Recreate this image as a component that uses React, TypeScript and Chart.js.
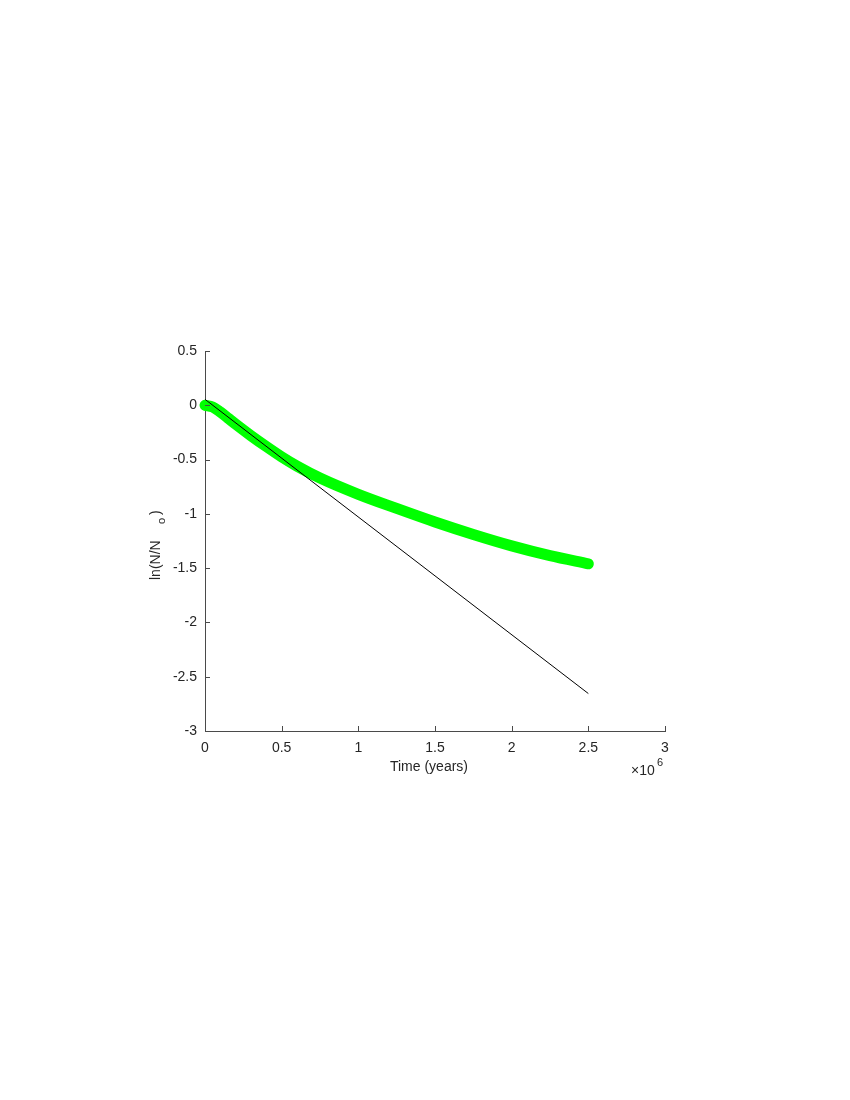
import React, { useEffect, useRef } from "react";
import { Chart, registerables } from "chart.js";

Chart.register(...registerables);

// Data (time in millions of years)
const timeMyr = [0, 0.05, 0.1, 0.15, 0.2, 0.3, 0.4, 0.5, 0.6, 0.75, 1.0, 1.25, 1.5, 1.75, 2.0, 2.25, 2.5];
const lnRatio = [0, -0.015, -0.062, -0.118, -0.174, -0.28, -0.38, -0.475, -0.56, -0.67, -0.82, -0.95, -1.075, -1.19, -1.295, -1.385, -1.46];
const fitTimeMyr = [0, 2.5];
const fitLnRatio = [0.055, -2.655];
const xTickValues = [0, 0.5, 1, 1.5, 2, 2.5, 3];
const yTickValues = [-3, -2.5, -2, -1.5, -1, -0.5, 0, 0.5];
const xTitle = "Time (years)";

const FONT = '"Liberation Sans", Arial, Helvetica, sans-serif';
const TEXT = "#262626";
const AXIS = "#4a4a4a";

export default function App() {
  const ref = useRef<HTMLCanvasElement | null>(null);

  useEffect(() => {
    if (!ref.current) return;
    const decor = {
      id: "decor",
      afterDraw(chart: any) {
        const ctx = chart.ctx;
        const xs = chart.scales.x;
        const ys = chart.scales.y;
        const { left, bottom } = chart.chartArea;
        ctx.save();
        ctx.strokeStyle = AXIS;
        ctx.lineWidth = 1;
        ctx.beginPath();
        xTickValues.forEach((v) => {
          const px = Math.round(xs.getPixelForValue(v * 1e6)) + 0.5;
          ctx.moveTo(px, bottom);
          ctx.lineTo(px, bottom - 5);
        });
        yTickValues.forEach((v) => {
          const py = Math.round(ys.getPixelForValue(v)) + 0.5;
          ctx.moveTo(left, py);
          ctx.lineTo(left + 5, py);
        });
        ctx.stroke();

        ctx.fillStyle = TEXT;
        // x title
        ctx.font = `14px ${FONT}`;
        ctx.textAlign = "center";
        ctx.textBaseline = "alphabetic";
        ctx.fillText(xTitle, (xs.left + xs.right) / 2 - 6, 771);

        // exponent
        ctx.textAlign = "left";
        ctx.font = `14px ${FONT}`;
        ctx.fillText("\u00d710", xs.right - 34, 775);
        ctx.font = `11px ${FONT}`;
        ctx.fillText("6", xs.right - 8, 766);

        // y title
        ctx.save();
        ctx.translate(160, 580);
        ctx.rotate(-Math.PI / 2);
        ctx.font = `14px ${FONT}`;
        ctx.fillText("ln(N/N", 0, 0);
        ctx.font = `11px ${FONT}`;
        ctx.fillText("o", 56, 5);
        ctx.font = `14px ${FONT}`;
        ctx.fillText(")", 65, 0);
        ctx.restore();
        ctx.restore();
      },
    };

    const chart = new Chart(ref.current, {
      type: "line",
      data: {
        datasets: [
          {
            label: "fit",
            data: fitTimeMyr.map((t, i) => ({ x: t * 1e6, y: fitLnRatio[i] })),
            borderColor: "#000000",
            borderWidth: 1,
            pointRadius: 0,
            fill: false,
            clip: false as any,
          },
          {
            label: "ln(N/No)",
            data: timeMyr.map((t, i) => ({ x: t * 1e6, y: lnRatio[i] })),
            borderColor: "#00ff00",
            borderWidth: 11,
            borderCapStyle: "round",
            borderJoinStyle: "round",
            cubicInterpolationMode: "monotone",
            pointRadius: 0,
            fill: false,
            clip: false as any,
          },
        ],
      },
      options: {
        animation: false,
        responsive: false,
        devicePixelRatio: 1,
        layout: { padding: { left: 145, right: 185, top: 351, bottom: 329 } },
        plugins: { legend: { display: false }, tooltip: { enabled: false }, title: { display: false } },
        scales: {
          x: {
            type: "linear",
            min: 0,
            max: 3e6,
            afterBuildTicks: (s: any) => {
              s.ticks = xTickValues.map((v) => ({ value: v * 1e6 }));
            },
            afterFit: (s: any) => {
              s.height = 40;
              s.paddingLeft = 0;
              s.paddingRight = 0;
            },
            grid: { display: true, drawOnChartArea: false, drawTicks: false },
            border: { display: true, color: AXIS, width: 1 },
            ticks: {
              padding: 9,
              maxRotation: 0,
              autoSkip: false,
              color: TEXT,
              font: { family: FONT, size: 14 },
              callback: (v: any) => String(Math.round((Number(v) / 1e6) * 10) / 10),
            },
          },
          y: {
            type: "linear",
            min: -3,
            max: 0.5,
            afterBuildTicks: (s: any) => {
              s.ticks = yTickValues.map((v) => ({ value: v }));
            },
            afterFit: (s: any) => {
              s.width = 60;
              s.paddingTop = 0;
              s.paddingBottom = 0;
            },
            grid: { display: true, drawOnChartArea: false, drawTicks: false },
            border: { display: true, color: AXIS, width: 1 },
            ticks: {
              padding: 8,
              autoSkip: false,
              color: TEXT,
              font: { family: FONT, size: 14 },
              callback: (v: any) => String(Math.round(Number(v) * 10) / 10),
            },
          },
        },
      },
      plugins: [decor],
    });
    return () => chart.destroy();
  }, []);

  return (
    <div style={{ position: "absolute", left: 0, top: 0, width: 850, height: 1100, background: "#fff" }}>
      <canvas ref={ref} width={850} height={1100} style={{ display: "block" }} />
    </div>
  );
}
